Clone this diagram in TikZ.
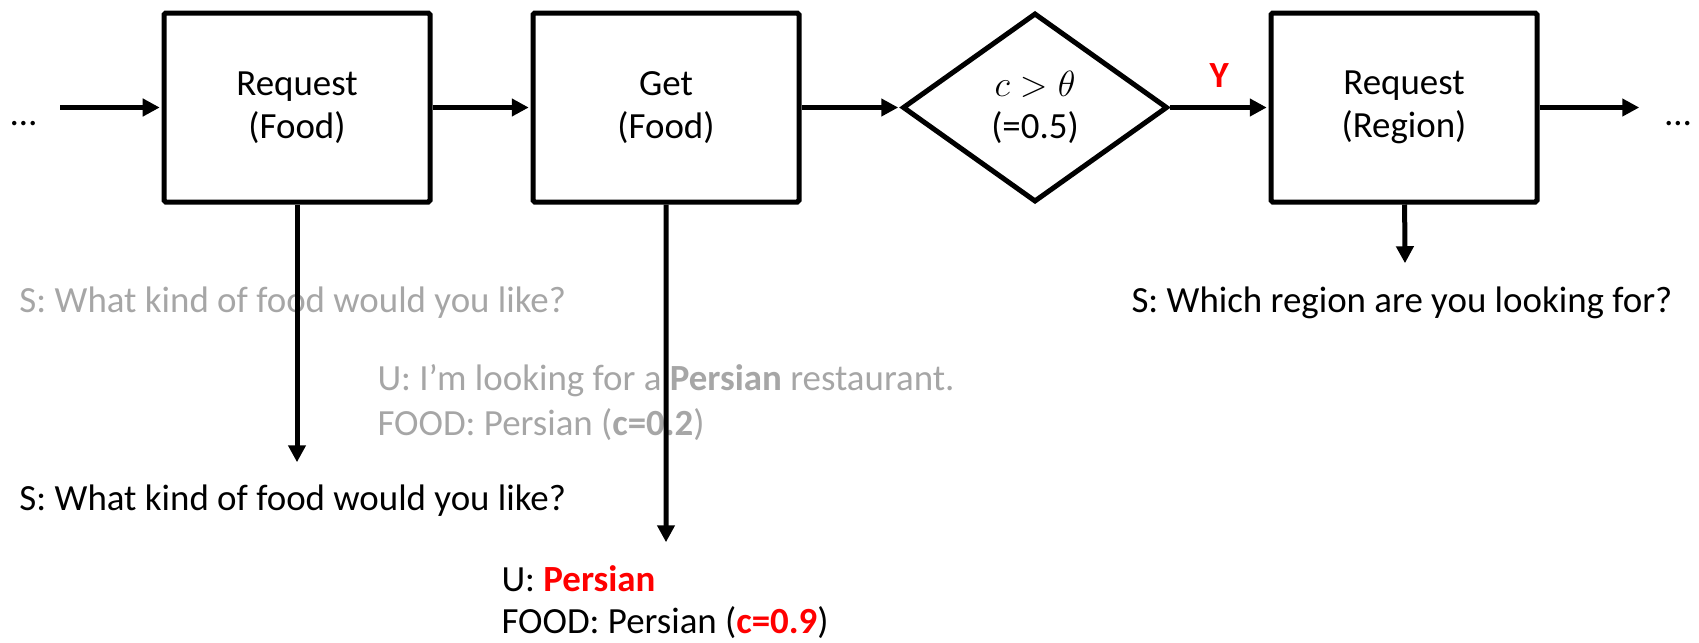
\documentclass[tikz,border=0pt]{standalone}
\usepackage{fontspec}
\setmainfont{Carlito}
\usepackage{xcolor}
\usetikzlibrary{arrows.meta, shapes, positioning}

\definecolor{fadegray}{HTML}{A6A6A6}
\definecolor{hotred}{HTML}{FF0000}

\tikzset{
  block/.style={draw, line width=0.1cm, rounded corners=1pt, minimum width=5.32cm, minimum height=3.78cm, align=center},
  test/.style={draw, diamond, line width=0.1cm, minimum width=5.3cm, minimum height=3.78cm, align=center, inner sep=0pt},
  utter/.style={anchor=base west, inner sep=0pt},
  faded/.style={utter, text=fadegray}
}

\begin{document}
\begin{tikzpicture}[>={Triangle[length=0.34cm,width=0.34cm]},shorten >=1pt,line width=0.1cm,node distance=7.38cm,font=\fontsize{21}{24.3}\selectfont]
	\useasboundingbox (0,0) rectangle (33.98,-12.84);

	\node[block] (reqfood)   at (5.94,-2.15)       {Request\\(Food)};
	\node[block] (getfood)   [right of = reqfood]  {Get\\(Food)};
	\node[test]  (check)     [right of = getfood]  {$c>\theta$\\(=0.5)};
	\node[block] (reqregion) [right of = check]    {Request\\(Region)};

	\node[anchor=base, inner sep=0pt] (dotsin)  at (0.47,-2.5)  {…};
	\node[anchor=base, inner sep=0pt] (dotsout) at (33.56,-2.5) {…};
	\coordinate (start) at (1.2,-2.15);
	\coordinate (exit)  at (32.82,-2.15);

	% system and user turns
	\node[faded] (askold)  at (0.34,-6.24)  {S: What kind of food would you like?};
	\node[faded] (userold) at (7.5,-7.8)    {U: I’m looking for a \textbf{Persian} restaurant.};
	\node[faded] (slotold) at (7.5,-8.7)    {FOOD: Persian (\textbf{c=0.2})};
	\node[utter] (asknew)  at (0.34,-10.2)  {S: What kind of food would you like?};
	\node[utter] (usernew) at (9.98,-11.82) {U: \textcolor{hotred}{\textbf{Persian}}};
	\node[utter] (slotnew) at (9.98,-12.66) {FOOD: Persian (\textcolor{hotred}{\textbf{c=0.9}})};
	\node[utter] (askregion) at (22.58,-6.24) {S: Which region are you looking for?};

	\coordinate (foodtip)   at (5.94,-9.28);
	\coordinate (gettip)    at (13.32,-10.88);
	\coordinate (regiontip) at (28.1,-5.3);

	\path[->] (start)   edge (reqfood);
	\path[->] (reqfood) edge (getfood);
	\path[->] (getfood) edge (check);
	\path[->] (check)   edge node[above=0.36cm, inner sep=0pt, text=hotred, font=\fontsize{21}{24.3}\selectfont\bfseries] {Y} (reqregion);
	\path[->] (reqregion) edge (exit);

	\path[->] (reqfood)   edge (foodtip);
	\path[->] (getfood)   edge (gettip);
	\path[->] (reqregion) edge (regiontip);
\end{tikzpicture}
\end{document}
